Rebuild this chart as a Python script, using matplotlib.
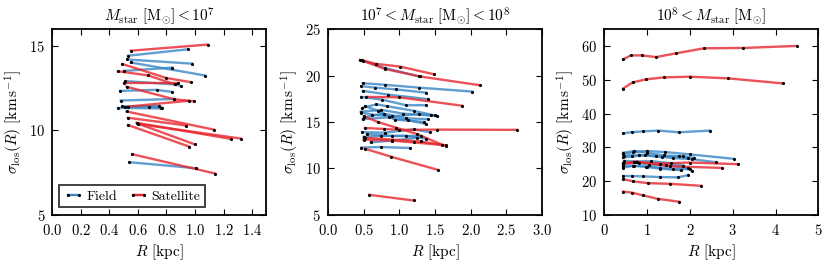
import matplotlib
matplotlib.use('Agg')
import matplotlib.pyplot as plt
from matplotlib.lines import Line2D

plt.rcParams['font.family'] = 'serif'
plt.rcParams['font.serif'] = ['cmr10']
plt.rcParams['mathtext.fontset'] = 'cm'
plt.rcParams['axes.formatter.use_mathtext'] = True
plt.rcParams['axes.unicode_minus'] = False

# ---- panel 1: M_star < 1e7 ----
p1_field_R = [[0.53, 0.95], [0.525, 0.98], [0.55, 1.07], [0.50, 0.84],
              [0.51, 0.86, 0.90], [0.475, 0.73, 0.84], [0.48, 0.85],
              [0.46, 0.76], [0.49, 0.68, 0.77], [0.51, 0.75], [0.54, 1.01]]
p1_field_sig = [[14.42, 14.80], [14.20, 13.95], [14.02, 13.25], [13.52, 13.72],
                [12.92, 12.72, 12.62], [12.34, 12.40, 12.28], [11.77, 11.86],
                [11.33, 11.30], [11.42, 11.41, 11.35], [11.40, 11.45], [8.12, 7.76]]
p1_sat_R = [[0.553, 1.09], [0.49, 0.80, 0.975], [0.46, 0.67, 0.86], [0.50, 0.88],
            [0.52, 0.85, 0.99], [0.53, 0.96], [0.52, 1.13], [0.53, 0.94],
            [0.59, 1.25], [0.60, 1.32], [0.53, 0.96], [0.60, 1.00], [0.56, 1.14]]
p1_sat_sig = [[14.72, 15.08], [13.93, 13.10, 12.85], [13.50, 13.26, 12.72], [12.80, 12.80],
              [12.59, 11.85, 11.72], [11.41, 11.76], [11.12, 10.05], [10.75, 10.29],
              [10.45, 9.50], [10.38, 9.52], [10.32, 9.04], [10.40, 9.17], [8.59, 7.45]]

# ---- panel 2: 1e7 < M_star < 1e8 ----
p2_field_R = [[0.48, 0.80, 1.28], [0.49, 0.80, 1.27, 2.02], [0.47, 0.66, 0.96, 1.38],
              [0.49, 0.84, 1.41], [0.47, 0.76, 1.10, 1.37], [0.48, 0.68, 0.83, 1.20, 1.50],
              [0.46, 0.75, 1.05, 1.44], [0.47, 0.62, 0.90, 1.27, 1.53], [0.50, 0.78, 1.10, 1.40],
              [0.49, 0.85, 1.12, 1.37], [0.52, 0.70, 0.94, 1.35], [0.48, 0.80, 1.20, 1.43],
              [0.50, 0.75, 1.10, 1.38], [0.60, 0.90, 1.25], [0.47, 0.74, 1.15],
              [0.55, 0.90, 1.30]]
p2_field_sig = [[21.62, 20.80, 19.90], [19.17, 19.00, 18.70, 18.27], [18.85, 18.70, 18.50, 18.15],
                [18.35, 17.95, 17.45], [17.70, 17.40, 16.80, 16.80], [16.50, 16.90, 16.70, 16.20, 15.70],
                [16.10, 16.30, 15.90, 15.70], [16.00, 15.80, 15.60, 15.85, 15.65], [15.50, 15.90, 15.40, 15.30],
                [15.30, 15.50, 15.20, 14.80], [16.70, 16.20, 15.25, 15.00], [13.90, 13.85, 14.20, 13.90],
                [13.40, 13.50, 13.50, 13.20], [12.80, 13.00, 13.30], [12.25, 12.30, 12.20],
                [13.70, 13.50, 13.50]]
p2_sat_R = [[0.45, 0.68, 1.01, 1.49], [0.49, 0.80, 1.29, 2.13], [0.54, 1.00, 1.88],
            [0.51, 0.70, 0.95, 1.25, 1.60], [0.52, 0.78, 1.00, 1.53, 2.65],
            [0.52, 0.90, 1.30, 1.66], [0.50, 0.90, 1.20, 1.65], [0.515, 0.89, 1.54], [0.58, 1.20]]
p2_sat_sig = [[21.68, 21.25, 20.96, 20.13], [21.60, 20.70, 19.90, 18.95], [17.70, 17.65, 16.75],
              [15.60, 15.00, 14.40, 13.70, 12.55], [14.35, 14.25, 14.15, 14.18, 14.15],
              [13.30, 13.10, 12.90, 12.45], [13.10, 13.00, 12.80, 12.50], [12.13, 11.25, 9.85], [7.16, 6.55]]

# ---- panel 3: 1e8 < M_star ----
p3_field_R = [[0.44, 0.64, 0.90, 1.25, 1.75, 2.47], [0.44, 0.64, 0.91, 1.30, 1.73, 1.96],
              [0.44, 0.68, 0.99, 1.42, 2.00, 3.02], [0.44, 0.70, 1.00, 1.40, 1.85, 2.10],
              [0.46, 0.80, 1.20, 1.60, 2.05, 2.60], [0.44, 0.65, 0.95, 1.35, 1.75, 1.95],
              [0.44, 0.70, 1.05, 1.45, 1.95, 2.05], [0.44, 0.66, 0.98, 1.30, 1.60, 2.00],
              [0.46, 0.75, 1.10, 1.55, 1.85], [0.44, 0.70, 1.00, 1.30, 1.80]]
p3_field_sig = [[34.1, 34.5, 34.7, 34.95, 34.45, 34.95], [21.5, 21.5, 21.4, 21.2, 21.1, 21.8],
                [28.0, 28.6, 28.9, 28.6, 27.9, 26.6], [28.4, 28.9, 28.4, 27.6, 27.3, 26.9],
                [27.5, 27.8, 27.5, 26.8, 26.5, 25.6], [27.0, 27.3, 27.6, 27.1, 27.3, 26.9],
                [25.0, 25.6, 24.9, 24.7, 23.9, 23.0], [24.0, 24.5, 24.3, 24.0, 23.6, 23.5],
                [26.0, 25.8, 25.9, 25.3, 24.6], [24.4, 24.6, 24.2, 23.7, 23.2]]
p3_sat_R = [[0.44, 0.62, 0.87, 1.21, 1.67, 2.33, 3.25, 4.49],
            [0.44, 0.66, 0.97, 1.39, 2.00, 2.90, 4.18],
            [0.44, 0.82, 1.30, 2.00, 3.13], [0.44, 0.76, 1.53, 2.76],
            [0.44, 0.68, 1.03, 1.53, 2.27], [0.44, 0.64, 0.90, 1.25, 1.75]]
p3_sat_sig = [[56.0, 57.2, 57.2, 56.7, 57.8, 59.3, 59.4, 60.0],
              [47.4, 49.2, 50.1, 50.7, 50.9, 50.4, 48.9],
              [25.2, 25.5, 25.2, 25.5, 25.0], [25.3, 25.8, 24.4, 23.9],
              [20.6, 19.9, 19.4, 19.2, 18.6], [16.9, 16.6, 15.8, 14.75, 13.9]]

titles = [r'$M_{\rm star}\ [{\rm M}_{\odot}] < 10^7$',
          r'$10^7 < M_{\rm star}\ [{\rm M}_{\odot}] < 10^8$',
          r'$10^8 < M_{\rm star}\ [{\rm M}_{\odot}]$']

field_col = '#3a86c6'
sat_col = '#e8262d'

fig = plt.figure(figsize=(8.3, 2.64), dpi=100)
lefts = [0.063, 0.395, 0.728]
axes = [fig.add_axes([l, 0.186, 0.258, 0.704]) for l in lefts]

panels = [(p1_field_R, p1_field_sig, p1_sat_R, p1_sat_sig),
          (p2_field_R, p2_field_sig, p2_sat_R, p2_sat_sig),
          (p3_field_R, p3_field_sig, p3_sat_R, p3_sat_sig)]

for ax, (fR, fS, sR, sS) in zip(axes, panels):
    for R, s in zip(fR, fS):
        ax.plot(R, s, '-', color=field_col, lw=1.7, alpha=0.8, zorder=2)
        ax.plot(R, s, '.', color='k', ms=2.5, zorder=4)
    for R, s in zip(sR, sS):
        ax.plot(R, s, '-', color=sat_col, lw=1.7, alpha=0.8, zorder=3)
        ax.plot(R, s, '.', color='k', ms=2.5, zorder=4)

# axis limits and ticks
axes[0].set_xlim(0, 1.5)
axes[0].set_ylim(5, 16)
axes[0].set_xticks([0.0, 0.2, 0.4, 0.6, 0.8, 1.0, 1.2, 1.4])
axes[0].set_yticks([5, 10, 15])
axes[1].set_xlim(0, 3.0)
axes[1].set_ylim(5, 25)
axes[1].set_xticks([0.0, 0.5, 1.0, 1.5, 2.0, 2.5, 3.0])
axes[1].set_yticks([5, 10, 15, 20, 25])
axes[2].set_xlim(0, 5)
axes[2].set_ylim(10, 65)
axes[2].set_xticks([0, 1, 2, 3, 4, 5])
axes[2].set_yticks([10, 20, 30, 40, 50, 60])

for ax, t in zip(axes, titles):
    ax.set_title(t, fontsize=11, pad=6)
    ax.set_xlabel(r'$R$ [kpc]', fontsize=11, labelpad=3)
    ax.set_ylabel(r'$\sigma_{\rm los}(R)$ [km$\,$s$^{-1}$]', fontsize=11, labelpad=3)
    ax.tick_params(direction='in', top=True, right=True, labelsize=10.5, length=4, width=0.8)
    ax.tick_params(axis='x', pad=6)
    ax.tick_params(axis='y', pad=5)
    for sp in ax.spines.values():
        sp.set_linewidth(1.3)

handles = [Line2D([], [], color=field_col, lw=1.7, marker='.', ms=2.5, mfc='k', mec='k'),
           Line2D([], [], color=sat_col, lw=1.7, marker='.', ms=2.5, mfc='k', mec='k')]
leg = axes[0].legend(handles, ['Field', 'Satellite'], loc='lower left', ncol=2,
                     fontsize=10, frameon=True, fancybox=False, numpoints=2,
                     handlelength=1.4, columnspacing=0.8, handletextpad=0.25,
                     borderpad=0.35, borderaxespad=0.0, bbox_to_anchor=(0.03, 0.04))
leg.get_frame().set_edgecolor('k')
leg.get_frame().set_linewidth(1.3)

fig.savefig('out.png', dpi=100)
